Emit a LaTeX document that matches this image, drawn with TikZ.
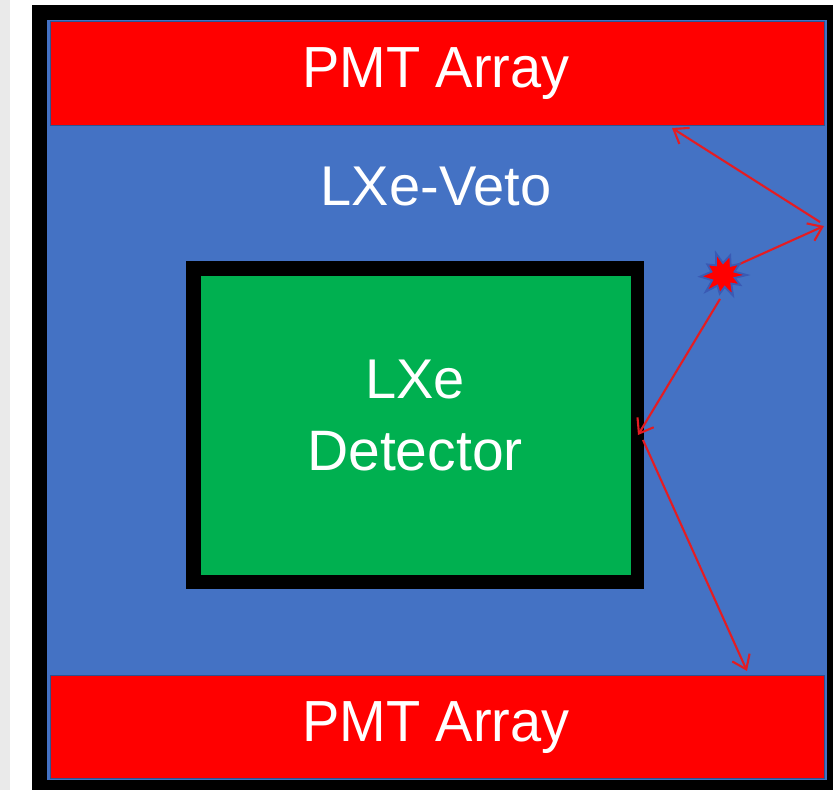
\documentclass[tikz,border=0pt]{standalone}
\usepackage{fontspec}
\setmainfont{Liberation Sans}
\usetikzlibrary{arrows.meta}
\definecolor{vetoblue}{RGB}{68,114,196}
\definecolor{pmtred}{RGB}{255,0,0}
\definecolor{detgreen}{RGB}{0,176,80}
\definecolor{edgeblue}{RGB}{47,82,143}
\definecolor{raycol}{RGB}{228,28,34}
\definecolor{flashedge}{RGB}{58,90,180}
\definecolor{pagegrey}{RGB}{234,234,234}
\tikzset{
  pmtbox/.style={fill=pmtred, draw=edgeblue, line width=0.8pt},
  labeltext/.style={text=white, inner sep=0pt},
  ray/.style={draw=raycol, line width=2.1pt,
    -{Straight Barb[length=13pt, width=19pt, line width=2.1pt]}},
  flash/.style={fill=pmtred, draw=flashedge, line width=1.8pt, line join=miter}
}
\begin{document}
\begin{tikzpicture}[x=1pt, y=-1pt]
  \useasboundingbox (0,0) rectangle (833,790);
  % surrounding page
  \fill[pagegrey] (0,0) rectangle (10,790);
  \fill[white] (10,0) rectangle (32,790);
  \fill[white] (32,0) rectangle (833,5);
  % vessel wall and liquid xenon veto volume
  \fill[black] (32,5) rectangle (833,790);
  \fill[vetoblue] (47,20) rectangle (827,780);
  % PMT arrays
  \path[pmtbox] (50,21) rectangle (824,125);
  \path[pmtbox] (50,675) rectangle (824,778);
  \node[labeltext, anchor=base, xscale=0.965, font=\fontsize{58}{58}\selectfont]
    (pmt-top) at (436,87) {PMT Array};
  \node[labeltext, anchor=base, xscale=0.965, font=\fontsize{58}{58}\selectfont]
    (pmt-bot) at (436,741) {PMT Array};
  % veto label
  \node[labeltext, anchor=base, font=\fontsize{56}{56}\selectfont]
    (veto) at (436,205) {LXe-Veto};
  % inner detector
  \fill[black] (186,261) rectangle (644,589);
  \fill[detgreen] (201,276) rectangle (631,575);
  \node[labeltext, anchor=base, font=\fontsize{56}{72}\selectfont]
    (lxe) at (415,398) {LXe};
  \node[labeltext, anchor=base, font=\fontsize{57}{72}\selectfont]
    (detector) at (415,470) {Detector};
  % interaction point and photon paths
  \coordinate (star) at (723,275);
  \coordinate (emit-a) at (733,267);
  \coordinate (emit-b) at (720,299);
  \coordinate (wall-hit) at (824,226);
  \coordinate (wall-out) at (820,222);
  \coordinate (top-hit) at (672,128);
  \coordinate (det-hit) at (638,435);
  \coordinate (det-out) at (643,440);
  \coordinate (bot-hit) at (747,671);
  \draw[ray] (emit-a) -- (wall-hit);
  \draw[ray] (wall-out) -- (top-hit);
  \draw[ray] (emit-b) -- (det-hit);
  \draw[ray] (det-out) -- (bot-hit);
  \begin{scope}[shift={(star)}]
    \path[flash] (0:24) -- (14:12) -- (30:20) -- (46:12) -- (64:23) -- (82:12)
      -- (100:19) -- (118:12) -- (136:24) -- (154:12) -- (176:23) -- (196:12)
      -- (214:19) -- (234:12) -- (252:23) -- (270:12) -- (290:21) -- (310:12)
      -- (326:20) -- (344:12) -- cycle;
  \end{scope}
\end{tikzpicture}
\end{document}
